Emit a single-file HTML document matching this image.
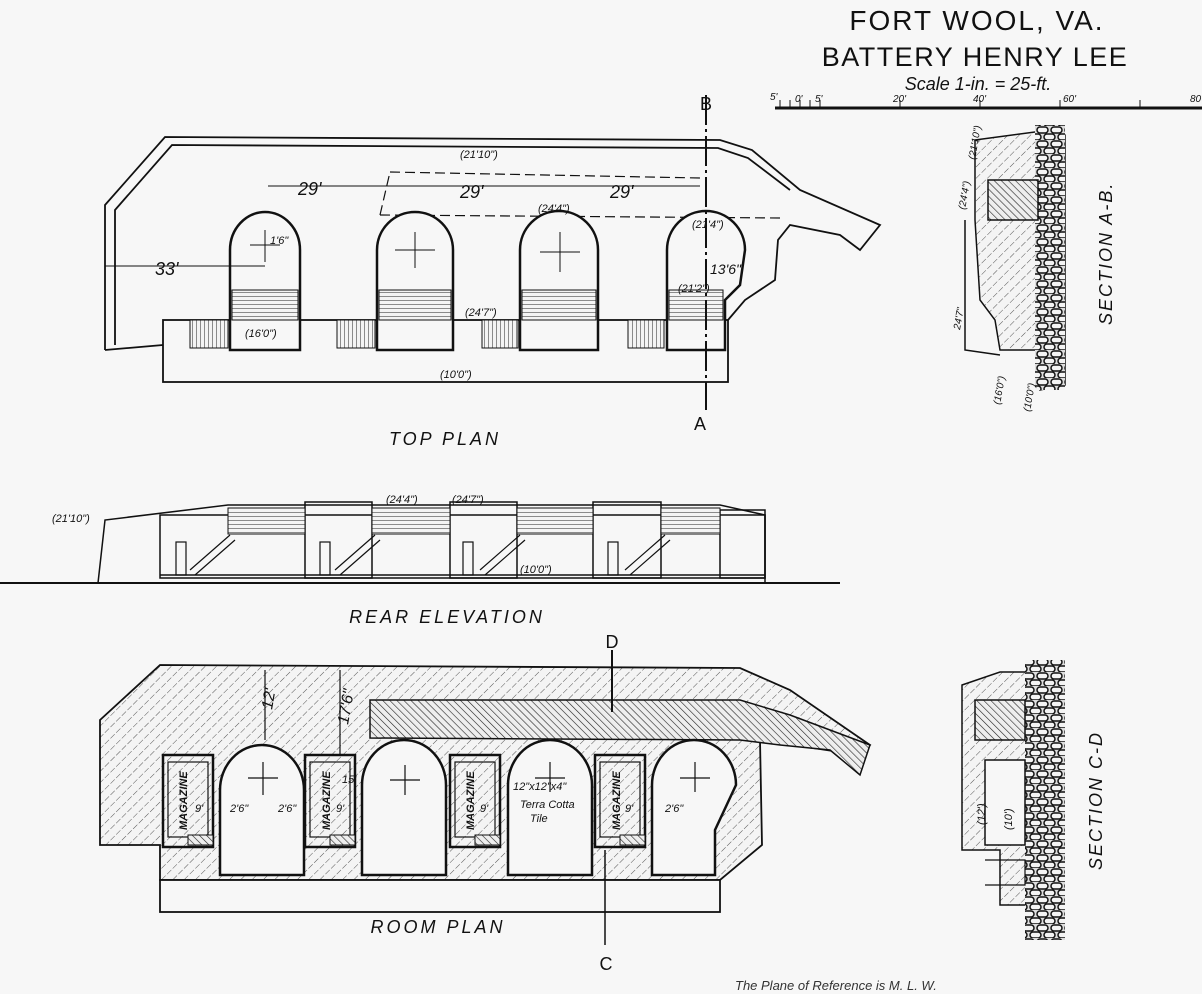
<!DOCTYPE html>
<html><head><meta charset="utf-8"><style>
html,body{margin:0;padding:0;background:#f7f7f7;}
svg{display:block;font-family:"Liberation Sans",sans-serif;}
</style></head><body>
<svg width="1202" height="994" viewBox="0 0 1202 994" xmlns="http://www.w3.org/2000/svg">
<defs>
<pattern id="h1" width="8" height="8" patternUnits="userSpaceOnUse" patternTransform="rotate(45)">
<rect width="8" height="8" fill="#f4f4f4"/><line x1="0" y1="0" x2="0" y2="8" stroke="#555" stroke-width="1" stroke-dasharray="4 2"/></pattern>
<pattern id="h2" width="5" height="5" patternUnits="userSpaceOnUse" patternTransform="rotate(-45)">
<rect width="5" height="5" fill="#eee"/><line x1="0" y1="0" x2="0" y2="5" stroke="#222" stroke-width="1.2"/></pattern>
<pattern id="stair" width="6" height="4" patternUnits="userSpaceOnUse">
<rect width="6" height="4" fill="#f4f4f4"/><line x1="0" y1="0" x2="6" y2="0" stroke="#222" stroke-width="1"/></pattern>
<pattern id="vst" width="4" height="6" patternUnits="userSpaceOnUse">
<rect width="4" height="6" fill="#f4f4f4"/><line x1="0" y1="0" x2="0" y2="6" stroke="#222" stroke-width="1"/></pattern>
<pattern id="stone" width="14" height="14" patternUnits="userSpaceOnUse">
<rect width="14" height="14" fill="#ddd"/><rect x="1" y="1" width="11" height="6" rx="3" fill="#f4f4f4" stroke="#111" stroke-width="1.5"/><rect x="-6" y="8" width="11" height="6" rx="3" fill="#f4f4f4" stroke="#111" stroke-width="1.5"/><rect x="8" y="8" width="11" height="6" rx="3" fill="#f4f4f4" stroke="#111" stroke-width="1.5"/></pattern>
</defs>
<rect width="1202" height="994" fill="#f7f7f7"/>

<!-- Title -->
<g fill="#111" text-anchor="middle">
<text x="977" y="30" font-size="28" letter-spacing="2">FORT WOOL, VA.</text>
<text x="975" y="66" font-size="27" letter-spacing="1.5">BATTERY HENRY LEE</text>
<text x="978" y="90" font-size="18" font-style="italic">Scale 1-in. = 25-ft.</text>
</g>
<line x1="775" y1="108" x2="1202" y2="108" stroke="#111" stroke-width="3"/>
<g stroke="#111" stroke-width="1">
<line x1="780" y1="100" x2="780" y2="108"/><line x1="790" y1="100" x2="790" y2="108"/><line x1="800" y1="100" x2="800" y2="108"/><line x1="810" y1="100" x2="810" y2="108"/><line x1="820" y1="100" x2="820" y2="108"/><line x1="900" y1="100" x2="900" y2="108"/><line x1="980" y1="100" x2="980" y2="108"/><line x1="1060" y1="100" x2="1060" y2="108"/><line x1="1140" y1="100" x2="1140" y2="108"/></g>
<g font-size="10" font-style="italic" fill="#111"><text x="770" y="100">5'</text><text x="795" y="102">0'</text><text x="815" y="102">5'</text><text x="893" y="102">20'</text><text x="973" y="102">40'</text><text x="1063" y="102">60'</text><text x="1190" y="102">80</text></g>

<!-- TOP PLAN -->
<g fill="none" stroke="#111" stroke-width="1.8">
<path d="M105,350 L105,205 L165,137 L720,140 L752,150 L800,190 L880,225 L860,250 L840,235 L790,225 L778,240 L775,280 L745,300 L728,320"/>
<path d="M115,345 L115,210 L172,145 L718,148 L748,158 L790,190"/>
<line x1="105" y1="350" x2="163" y2="345"/>
<rect x="163" y="320" width="565" height="62"/>
<path d="M390,172 L700,178 M380,215 L390,172 M380,215 L780,218" stroke-dasharray="10 5" stroke-width="1.2"/>
</g>
<g stroke="#111" stroke-width="2.5" fill="#f7f7f7">
<path d="M230,350 L230,250 A35,38 0 0 1 300,250 L300,350 Z"/>
<path d="M377,350 L377,250 A38,38 0 0 1 453,250 L453,350 Z"/>
<path d="M520,350 L520,250 A38,38 0 0 1 598,250 L598,350 Z"/>
<path d="M667,350 L667,250 A38,38 0 0 1 745,250 L740,285 L725,300 L725,350 Z"/>
</g>
<g fill="url(#stair)" stroke="#111" stroke-width="1">
<rect x="232" y="290" width="66" height="30"/><rect x="379" y="290" width="72" height="30"/>
<rect x="522" y="290" width="74" height="30"/><rect x="669" y="290" width="54" height="30"/>
</g>
<g fill="url(#vst)" stroke="#111" stroke-width="1">
<rect x="190" y="320" width="38" height="28"/><rect x="337" y="320" width="38" height="28"/>
<rect x="482" y="320" width="36" height="28"/><rect x="628" y="320" width="36" height="28"/>
</g>
<g stroke="#111" stroke-width="1"><line x1="250" y1="245" x2="280" y2="245"/><line x1="265" y1="230" x2="265" y2="262"/>
<line x1="395" y1="250" x2="435" y2="250"/><line x1="415" y1="232" x2="415" y2="268"/>
<line x1="540" y1="252" x2="580" y2="252"/><line x1="560" y1="232" x2="560" y2="272"/>
<line x1="706" y1="95" x2="706" y2="410" stroke-width="2" stroke-dasharray="30 4 3 4"/>
<line x1="105" y1="266" x2="265" y2="266"/><line x1="268" y1="186" x2="560" y2="186"/><line x1="560" y1="186" x2="700" y2="186"/>
</g>
<g font-style="italic" fill="#111" font-size="18">
<text x="155" y="275">33'</text><text x="298" y="195">29'</text><text x="460" y="198">29'</text><text x="610" y="198">29'</text>
</g>
<g font-style="italic" fill="#111" font-size="11">
<text x="460" y="158">(21'10")</text><text x="538" y="212">(24'4")</text><text x="692" y="228">(21'4")</text>
<text x="678" y="292">(21'2")</text><text x="465" y="316">(24'7")</text><text x="245" y="337">(16'0")</text>
<text x="440" y="378">(10'0")</text><text x="710" y="274" font-size="14">13'6"</text><text x="270" y="244">1'6"</text>
</g>
<text x="706" y="110" font-size="18" text-anchor="middle" fill="#111">B</text>
<text x="700" y="430" font-size="18" text-anchor="middle" fill="#111">A</text>
<text x="445" y="445" font-size="18" font-style="italic" text-anchor="middle" letter-spacing="3" fill="#111">TOP PLAN</text>

<!-- SECTION A-B -->
<path d="M975,140 L1050,130 L1065,135 L1065,385 L1040,390 L1040,350 L1000,350 L995,320 L980,300 L975,220 Z" fill="url(#h1)" stroke="#111" stroke-width="1.5"/>
<rect x="1035" y="125" width="30" height="265" fill="url(#stone)"/>
<rect x="988" y="180" width="50" height="40" fill="url(#h2)" stroke="#111" stroke-width="1.5"/>
<path d="M965,220 L965,350 L1000,355" fill="none" stroke="#111" stroke-width="1.5"/>
<text transform="translate(1112,325) rotate(-90)" font-size="18" font-style="italic" letter-spacing="2" fill="#111">SECTION A-B.</text>
<g font-size="10" font-style="italic" fill="#111"><text transform="translate(975,160) rotate(-80)">(21'10")</text><text transform="translate(965,210) rotate(-80)">(24'4")</text><text transform="translate(960,330) rotate(-80)">24'7"</text><text transform="translate(1000,405) rotate(-80)">(16'0")</text><text transform="translate(1030,412) rotate(-80)">(10'0")</text></g>

<!-- REAR ELEVATION -->
<g fill="none" stroke="#111" stroke-width="1.5">
<line x1="0" y1="583" x2="840" y2="583" stroke-width="2"/>
<path d="M98,583 L105,520 L228,505 L720,505 L765,515 L765,583"/>
<rect x="160" y="515" width="605" height="63"/>
<rect x="305" y="502" width="67" height="76"/><rect x="450" y="502" width="67" height="76"/><rect x="593" y="502" width="68" height="76"/><rect x="720" y="510" width="45" height="68"/>
<line x1="160" y1="575" x2="765" y2="575"/>
</g>
<g fill="url(#stair)" stroke="#111" stroke-width="1">
<rect x="228" y="508" width="77" height="26"/><rect x="372" y="508" width="78" height="26"/><rect x="517" y="508" width="76" height="26"/><rect x="661" y="508" width="59" height="26"/>
</g>
<g stroke="#111" stroke-width="1.2" fill="none">
<path d="M190,570 L230,535 M195,575 L235,540"/><path d="M335,570 L375,535 M340,575 L380,540"/><path d="M480,570 L520,535 M485,575 L525,540"/><path d="M625,570 L665,535 M630,575 L670,540"/>
<rect x="176" y="542" width="10" height="33"/><rect x="320" y="542" width="10" height="33"/><rect x="463" y="542" width="10" height="33"/><rect x="608" y="542" width="10" height="33"/>
</g>
<g font-style="italic" fill="#111" font-size="11"><text x="52" y="522">(21'10")</text><text x="386" y="503">(24'4")</text><text x="452" y="503">(24'7")</text><text x="520" y="573">(10'0")</text></g>
<text x="447" y="623" font-size="18" font-style="italic" text-anchor="middle" letter-spacing="3" fill="#111">REAR ELEVATION</text>

<!-- ROOM PLAN -->
<path d="M100,720 L160,665 L740,668 L790,690 L870,745 L860,755 L760,740 L762,845 L720,880 L160,880 L160,845 L100,845 Z" fill="url(#h1)" stroke="#111" stroke-width="1.8"/>
<path d="M370,700 L740,700 L790,715 L870,745 L860,775 L830,750 L780,745 L740,740 L370,738 Z" fill="url(#h2)" stroke="#111" stroke-width="1.5"/>
<rect x="160" y="880" width="560" height="32" fill="#f7f7f7" stroke="#111" stroke-width="1.8"/>
<g stroke="#111" stroke-width="2.5" fill="#f7f7f7">
<path d="M220,875 L220,790 A42,45 0 0 1 304,790 L304,875 Z"/>
<path d="M362,875 L362,785 A42,45 0 0 1 446,785 L446,875 Z"/>
<path d="M508,875 L508,785 A42,45 0 0 1 592,785 L592,875 Z"/>
<path d="M652,875 L652,785 A42,45 0 0 1 736,785 L715,830 L715,875 Z"/>
<rect x="163" y="755" width="50" height="92" fill="none"/><rect x="305" y="755" width="50" height="92" fill="none"/>
<rect x="450" y="755" width="50" height="92" fill="none"/><rect x="595" y="755" width="50" height="92" fill="none"/>
</g>
<g stroke="#111" stroke-width="1.2" fill="none"><rect x="168" y="762" width="40" height="75"/><rect x="310" y="762" width="40" height="75"/><rect x="455" y="762" width="40" height="75"/><rect x="600" y="762" width="40" height="75"/>
<line x1="248" y1="778" x2="278" y2="778"/><line x1="263" y1="762" x2="263" y2="795"/>
<line x1="390" y1="780" x2="420" y2="780"/><line x1="405" y1="765" x2="405" y2="795"/>
<line x1="535" y1="778" x2="565" y2="778"/><line x1="550" y1="762" x2="550" y2="792"/>
<line x1="680" y1="778" x2="710" y2="778"/><line x1="695" y1="762" x2="695" y2="792"/>
<line x1="612" y1="650" x2="612" y2="712" stroke-width="2"/><line x1="605" y1="850" x2="605" y2="945" stroke-width="1.5"/>
<line x1="265" y1="670" x2="265" y2="740"/><line x1="340" y1="670" x2="340" y2="755"/></g>
<g fill="url(#h2)" stroke="#111" stroke-width="1"><rect x="188" y="835" width="25" height="10"/><rect x="330" y="835" width="25" height="10"/><rect x="475" y="835" width="25" height="10"/><rect x="620" y="835" width="25" height="10"/></g>
<g font-style="italic" fill="#111" font-size="11" font-weight="bold">
<text transform="translate(187,830) rotate(-90)">MAGAZINE</text><text transform="translate(330,830) rotate(-90)">MAGAZINE</text>
<text transform="translate(474,830) rotate(-90)">MAGAZINE</text><text transform="translate(620,830) rotate(-90)">MAGAZINE</text>
</g>
<g font-style="italic" fill="#111" font-size="11">
<text x="195" y="812">9'</text><text x="230" y="812">2'6"</text><text x="278" y="812">2'6"</text><text x="336" y="812">9'</text><text x="342" y="783">15'</text>
<text x="480" y="812">9'</text><text x="513" y="790">12"x12"x4"</text><text x="520" y="808">Terra Cotta</text><text x="530" y="822">Tile</text>
<text x="625" y="812">9'</text><text x="665" y="812">2'6"</text>
<text transform="translate(272,710) rotate(-80)" font-size="16">12'</text><text transform="translate(348,725) rotate(-80)" font-size="16">17'6"</text>
</g>
<text x="612" y="648" font-size="18" text-anchor="middle" fill="#111">D</text>
<text x="606" y="970" font-size="18" text-anchor="middle" fill="#111">C</text>
<text x="438" y="933" font-size="18" font-style="italic" text-anchor="middle" letter-spacing="3" fill="#111">ROOM PLAN</text>

<!-- SECTION C-D -->
<path d="M962,685 L1000,672 L1045,672 L1045,905 L1000,905 L1000,850 L962,850 Z" fill="url(#h1)" stroke="#111" stroke-width="1.5"/>
<rect x="1025" y="660" width="40" height="280" fill="url(#stone)"/>
<rect x="975" y="700" width="50" height="40" fill="url(#h2)" stroke="#111" stroke-width="1.5"/>
<rect x="985" y="760" width="40" height="85" fill="#f7f7f7" stroke="#111" stroke-width="1.5"/>
<path d="M985,860 L1025,860 L1025,885 L985,885" fill="none" stroke="#111" stroke-width="1.2"/>
<g font-size="11" font-style="italic" fill="#111"><text transform="translate(985,825) rotate(-90)">(12')</text><text transform="translate(1012,830) rotate(-90)">(10')</text></g>
<text transform="translate(1102,870) rotate(-90)" font-size="18" font-style="italic" letter-spacing="2" fill="#111">SECTION C-D</text>

<text x="735" y="990" font-size="13" font-style="italic" fill="#333">The Plane of Reference is M. L. W.</text>
</svg>
</body></html>
